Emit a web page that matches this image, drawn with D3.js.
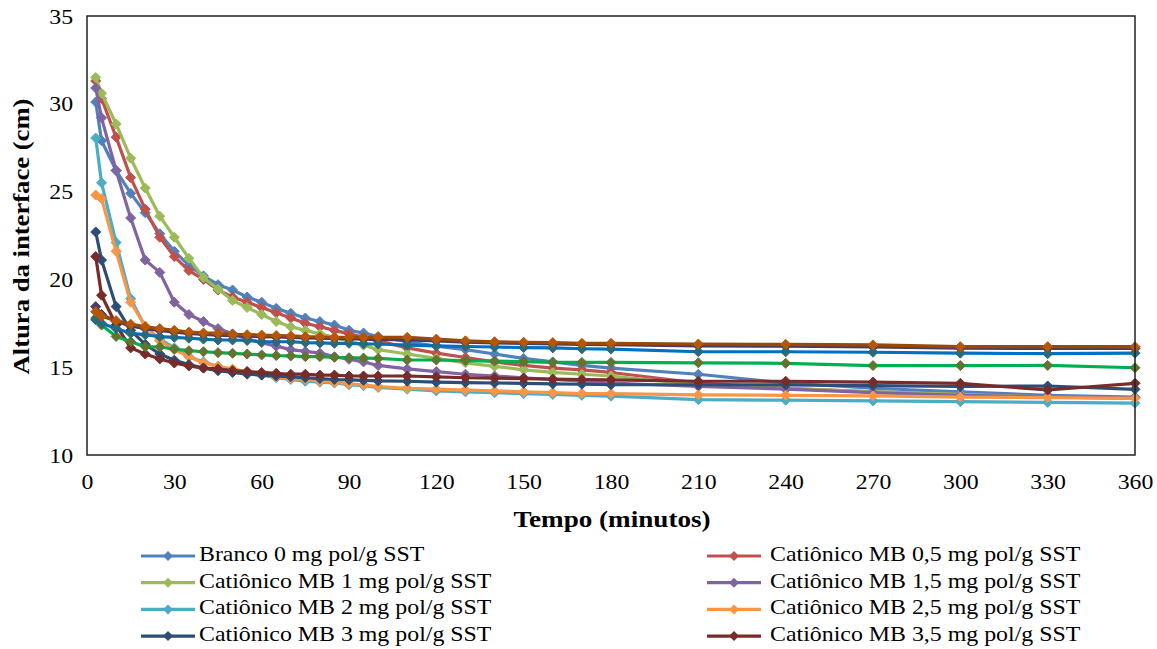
<!DOCTYPE html>
<html><head><meta charset="utf-8">
<script src="https://cdn.jsdelivr.net/npm/d3@7"></script>
<style>
body{margin:0;background:#fff}
svg text{fill:#000}
</style>
</head><body>
<svg id="chart" width="1157" height="649"></svg>
<script>
// ---- data ----
const times = [3,5,10,15,20,25,30,35,40,45,50,55,60,65,70,75,80,85,90,95,100,110,120,130,140,150,160,170,180,210,240,270,300,330,360];
const xTicks = [0,30,60,90,120,150,180,210,240,270,300,330,360];
const yTicks = [10,15,20,25,30,35];

const seriesNames = [
  "Branco 0 mg pol/g SST",
  "Catiônico MB 0,5 mg pol/g SST",
  "Catiônico MB 1 mg pol/g SST",
  "Catiônico MB 1,5 mg pol/g SST",
  "Catiônico MB 2 mg pol/g SST",
  "Catiônico MB 2,5 mg pol/g SST",
  "Catiônico MB 3 mg pol/g SST",
  "Catiônico MB 3,5 mg pol/g SST",
  "Catiônico MB 4 mg pol/g SST",
  "Catiônico MB 4,5 mg pol/g SST",
  "Catiônico MB 5 mg pol/g SST",
  "Catiônico MB 5,5 mg pol/g SST"
];

const branco = [30.1,27.9,26.2,24.9,23.8,22.6,21.6,20.8,20.2,19.7,19.4,19.0,18.7,18.35,18.07,17.8,17.6,17.4,17.1,16.95,16.75,16.45,16.2,16.0,15.75,15.5,15.3,15.1,14.95,14.6,14.1,13.8,13.6,13.4,13.3];
const mb05 = [31.3,30.3,28.1,25.8,24.0,22.4,21.3,20.5,20.0,19.4,19.0,18.7,18.4,18.1,17.8,17.5,17.3,17.1,16.9,16.7,16.5,16.1,15.8,15.55,15.3,15.1,14.95,14.85,14.7,14.1,13.8,13.6,13.45,13.3,13.25];
const mb1 = [31.5,30.6,28.85,26.9,25.2,23.6,22.4,21.2,20.1,19.45,18.8,18.4,18.0,17.6,17.3,17.1,16.9,16.7,16.5,16.25,16.0,15.75,15.5,15.25,15.05,14.85,14.7,14.6,14.5,14.0,13.8,13.6,13.45,13.3,13.25];
const mb15 = [30.9,29.2,26.2,23.5,21.1,20.4,18.7,18.0,17.6,17.2,16.9,16.6,16.4,16.2,16.0,15.9,15.8,15.6,15.45,15.3,15.1,14.9,14.75,14.6,14.5,14.4,14.3,14.2,14.1,13.9,13.75,13.55,13.4,13.3,13.25];
const mb2 = [28.05,25.5,22.1,18.9,17.3,16.6,16.1,15.6,15.3,15.05,14.85,14.7,14.55,14.4,14.3,14.2,14.15,14.1,14.0,13.95,13.85,13.75,13.65,13.6,13.55,13.5,13.45,13.4,13.35,13.15,13.12,13.08,13.04,13.0,12.95];
const mb25 = [24.8,24.6,21.6,18.7,17.35,16.5,16.0,15.6,15.25,15.05,14.9,14.75,14.6,14.45,14.35,14.3,14.2,14.15,14.05,14.0,13.9,13.8,13.75,13.7,13.65,13.6,13.55,13.5,13.5,13.42,13.4,13.37,13.3,13.27,13.23];
const mb3 = [22.7,21.1,18.45,17.1,16.3,15.75,15.4,15.15,14.95,14.8,14.7,14.6,14.55,14.5,14.45,14.4,14.35,14.3,14.28,14.25,14.22,14.2,14.15,14.12,14.1,14.08,14.05,14.03,14.0,14.0,13.99,13.95,13.9,13.93,13.74];
const mb35 = [21.3,19.1,17.4,16.1,15.75,15.47,15.24,15.07,14.95,14.9,14.8,14.75,14.7,14.65,14.6,14.6,14.55,14.55,14.5,14.5,14.5,14.5,14.45,14.4,14.38,14.35,14.32,14.3,14.28,14.2,14.2,14.15,14.08,13.7,14.08];
const mb4 = [17.8,17.4,16.75,16.45,16.17,16.15,16.03,15.94,15.88,15.83,15.79,15.75,15.7,15.66,15.64,15.6,15.6,15.56,15.54,15.52,15.5,15.41,15.41,15.37,15.35,15.31,15.27,15.27,15.27,15.25,15.22,15.09,15.09,15.1,14.97];
const mb45 = [18.45,18.0,17.6,17.35,17.2,17.1,17.0,16.92,16.87,16.83,16.8,16.77,16.74,16.72,16.7,16.67,16.65,16.63,16.62,16.6,16.58,16.55,16.5,16.42,16.38,16.35,16.32,16.3,16.28,16.22,16.2,16.15,16.08,16.07,16.07];
const mb5 = [17.7,17.5,17.2,16.93,16.85,16.74,16.7,16.65,16.6,16.55,16.55,16.52,16.45,16.45,16.45,16.4,16.38,16.36,16.36,16.33,16.32,16.26,16.22,16.18,16.15,16.12,16.1,16.05,16.03,15.88,15.88,15.85,15.8,15.77,15.8];
const mb55 = [18.16,17.9,17.65,17.45,17.3,17.2,17.1,17.0,16.95,16.93,16.87,16.85,16.83,16.8,16.78,16.74,16.72,16.7,16.7,16.7,16.7,16.7,16.6,16.5,16.45,16.42,16.4,16.36,16.36,16.32,16.3,16.27,16.17,16.17,16.17];

const seriesValues = [branco, mb05, mb1, mb15, mb2, mb25, mb3, mb35, mb4, mb45, mb5, mb55];

// ---- styles ----
const lineColors   = ["#4F81BD","#C0504D","#9BBB59","#8064A2","#4BACC6","#F79646","#2C4D75","#772C2A","#00B050","#4D3B62","#0070C0","#984807"];
const markerColors = ["#4F81BD","#C0504D","#9BBB59","#8064A2","#4BACC6","#F79646","#2C4D75","#772C2A","#5F7530","#4D3B62","#276A7C","#B65708"];
const legendCount = 8;
const FONT = '"Liberation Serif","Times New Roman",Tinos,"DejaVu Serif",serif';

// ---- layout ----
const svg = d3.select("#chart");
const plot = {left: 87, right: 1135, top: 16, bottom: 455};
const x = d3.scaleLinear().domain([0,360]).range([plot.left, plot.right]);
const y = d3.scaleLinear().domain([10,35]).range([plot.bottom, plot.top]);

const diamond = r => `M0,${-r}L${r},0L0,${r}L${-r},0Z`;
// stretch a text horizontally by factor k (keeps glyph height)
const stretch = (sel, k) => sel.each(function(){
  const L = this.getComputedTextLength();
  d3.select(this).attr("textLength", L * k).attr("lengthAdjust", "spacingAndGlyphs");
});

// axes (labels only, no tick marks)
const xAxis = d3.axisBottom(x).tickValues(xTicks).tickSize(0).tickPadding(18);
const gx = svg.append("g").attr("transform", `translate(0,${plot.bottom})`).call(xAxis);
gx.attr("font-family", FONT).attr("font-size", 22);
gx.select(".domain").remove();
gx.selectAll("text").attr("fill","#000").call(stretch, 1.08);

const yAxis = d3.axisLeft(y).tickValues(yTicks).tickSize(0).tickPadding(14);
const gy = svg.append("g").attr("transform", `translate(${plot.left},0)`).call(yAxis);
gy.attr("font-family", FONT).attr("font-size", 22);
gy.select(".domain").remove();
gy.selectAll("text").attr("fill","#000").call(stretch, 1.08);

// series
const lineGen = d3.line().x(d => x(d[0])).y(d => y(d[1]));
seriesValues.forEach((vals, i) => {
  const pts = times.map((t, k) => [t, vals[k]]);
  const g = svg.append("g");
  g.append("path").attr("d", lineGen(pts)).attr("fill","none")
    .attr("stroke", lineColors[i]).attr("stroke-width", 3.2).attr("stroke-linejoin","round");
  g.selectAll("path.m").data(pts).join("path").attr("class","m")
    .attr("d", diamond(5)).attr("transform", d => `translate(${x(d[0])},${y(d[1])})`)
    .attr("fill", markerColors[i]).attr("stroke", markerColors[i]).attr("stroke-width", 1);
});

// plot border
svg.append("rect").attr("x", plot.left).attr("y", plot.top)
  .attr("width", plot.right - plot.left).attr("height", plot.bottom - plot.top)
  .attr("fill","none").attr("stroke","#222").attr("stroke-width",1.5);

// axis titles
svg.append("text").attr("x", 612).attr("y", 521).attr("text-anchor","middle")
  .attr("dominant-baseline","middle").attr("font-family", FONT).attr("font-size",24).attr("font-weight","bold")
  .text("Tempo (minutos)").call(stretch, 1.13);
svg.append("text").attr("transform", `translate(23,${(plot.top+plot.bottom)/2 + 1}) rotate(-90)`)
  .attr("text-anchor","middle").attr("dominant-baseline","middle").attr("font-family", FONT)
  .attr("font-size",24).attr("font-weight","bold").text("Altura da interface (cm)").call(stretch, 1.11);

// legend
const legCols = [{lx:141, tx:199}, {lx:707, tx:770}];
const legRow0 = 556, legRowH = 26.7, legLineW = 54;
for (let i = 0; i < legendCount; i++) {
  const col = legCols[i % 2], row = Math.floor(i / 2);
  const cy = legRow0 + row * legRowH;
  const g = svg.append("g");
  g.append("line").attr("x1", col.lx).attr("x2", col.lx + legLineW).attr("y1", cy).attr("y2", cy)
    .attr("stroke", lineColors[i]).attr("stroke-width", 3.2);
  g.append("path").attr("d", diamond(5)).attr("transform", `translate(${col.lx + legLineW/2},${cy})`)
    .attr("fill", markerColors[i]);
  g.append("text").attr("x", col.tx).attr("y", cy).attr("dominant-baseline","middle")
    .attr("font-family", FONT).attr("font-size", 22).text(seriesNames[i]).call(stretch, 1.085);
}
</script>
</body></html>
